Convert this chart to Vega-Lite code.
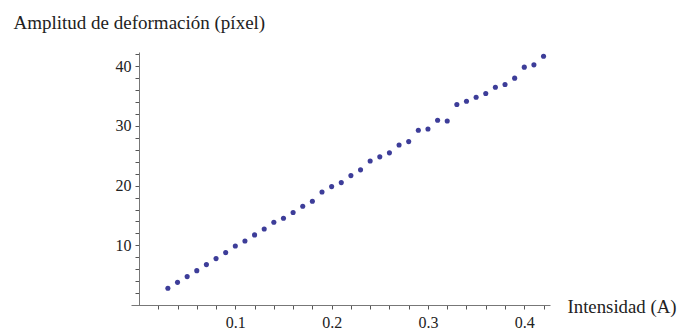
{
  "$schema": "https://vega.github.io/schema/vega-lite/v6.json",
  "autosize": "none",
  "width": 419,
  "height": 253,
  "padding": {"left": 131, "top": 52, "right": 127, "bottom": 27},
  "background": "white",
  "config": {
    "view": {"stroke": null, "fill": null},
    "font": "Liberation Serif"
  },
  "data": {
    "values": [
      {"intensidad": 0.03, "amplitud": 2.80},
      {"intensidad": 0.04, "amplitud": 3.80},
      {"intensidad": 0.05, "amplitud": 4.76},
      {"intensidad": 0.06, "amplitud": 5.76},
      {"intensidad": 0.07, "amplitud": 6.77},
      {"intensidad": 0.08, "amplitud": 7.78},
      {"intensidad": 0.09, "amplitud": 8.78},
      {"intensidad": 0.10, "amplitud": 9.89},
      {"intensidad": 0.11, "amplitud": 10.73},
      {"intensidad": 0.12, "amplitud": 11.75},
      {"intensidad": 0.13, "amplitud": 12.74},
      {"intensidad": 0.14, "amplitud": 13.86},
      {"intensidad": 0.15, "amplitud": 14.53},
      {"intensidad": 0.16, "amplitud": 15.49},
      {"intensidad": 0.17, "amplitud": 16.54},
      {"intensidad": 0.18, "amplitud": 17.38},
      {"intensidad": 0.19, "amplitud": 18.94},
      {"intensidad": 0.20, "amplitud": 19.84},
      {"intensidad": 0.21, "amplitud": 20.51},
      {"intensidad": 0.22, "amplitud": 21.69},
      {"intensidad": 0.23, "amplitud": 22.65},
      {"intensidad": 0.24, "amplitud": 24.13},
      {"intensidad": 0.25, "amplitud": 24.83},
      {"intensidad": 0.26, "amplitud": 25.50},
      {"intensidad": 0.27, "amplitud": 26.81},
      {"intensidad": 0.28, "amplitud": 27.38},
      {"intensidad": 0.29, "amplitud": 29.28},
      {"intensidad": 0.30, "amplitud": 29.50},
      {"intensidad": 0.31, "amplitud": 30.95},
      {"intensidad": 0.32, "amplitud": 30.84},
      {"intensidad": 0.33, "amplitud": 33.60},
      {"intensidad": 0.34, "amplitud": 34.14},
      {"intensidad": 0.35, "amplitud": 34.81},
      {"intensidad": 0.36, "amplitud": 35.45},
      {"intensidad": 0.37, "amplitud": 36.49},
      {"intensidad": 0.38, "amplitud": 36.96},
      {"intensidad": 0.39, "amplitud": 38.02},
      {"intensidad": 0.40, "amplitud": 39.86},
      {"intensidad": 0.41, "amplitud": 40.25},
      {"intensidad": 0.42, "amplitud": 41.70}
    ]
  },
  "mark": {"type": "circle", "size": 26, "color": "#3d3d99", "opacity": 1},
  "encoding": {
    "x": {
      "field": "intensidad",
      "type": "quantitative",
      "scale": {"domain": [-0.0083, 0.4267], "nice": false, "zero": false},
      "axis": {
        "zindex": 1,
        "values": [0.02, 0.04, 0.06, 0.08, 0.1, 0.12, 0.14, 0.16, 0.18, 0.2, 0.22, 0.24, 0.26, 0.28, 0.3, 0.32, 0.34, 0.36, 0.38, 0.4, 0.42],
        "format": ".1f",
        "labelExpr": "abs(datum.value * 10 - round(datum.value * 10)) < 0.000001 ? datum.label : ''",
        "grid": false,
        "ticks": true,
        "domainColor": "#777777",
        "tickColor": "#555555",
        "tickWidth": 1,
        "tickSize": 4,
        "labelPadding": 5,
        "labelFontSize": 16,
        "labelColor": "#222222",
        "labelFont": "Liberation Serif",
        "labelBaseline": "top",
        "title": "Intensidad (A)",
        "titleFont": "Liberation Serif",
        "titleFontSize": 18.8,
        "titleFontWeight": "normal",
        "titleColor": "#222222",
        "titleAnchor": "start",
        "titleAlign": "left",
        "titleBaseline": "alphabetic",
        "titleX": 436,
        "titleY": 7
      }
    },
    "y": {
      "field": "amplitud",
      "type": "quantitative",
      "scale": {"domain": [0, 42.4], "nice": false, "zero": false},
      "axis": {
        "zindex": 1,
        "offset": -8,
        "values": [2, 4, 6, 8, 10, 12, 14, 16, 18, 20, 22, 24, 26, 28, 30, 32, 34, 36, 38, 40, 42],
        "format": "d",
        "labelExpr": "datum.value % 10 == 0 ? datum.label : ''",
        "grid": false,
        "ticks": true,
        "domainColor": "#777777",
        "tickColor": "#555555",
        "tickWidth": 1,
        "tickSize": 4,
        "labelPadding": 4,
        "labelFontSize": 16,
        "labelColor": "#222222",
        "labelFont": "Liberation Serif",
        "title": "Amplitud de deformación (píxel)",
        "titleFont": "Liberation Serif",
        "titleFontSize": 19,
        "titleFontWeight": "normal",
        "titleColor": "#222222",
        "titleAngle": 0,
        "titleAnchor": "start",
        "titleAlign": "left",
        "titleBaseline": "alphabetic",
        "titleX": -126,
        "titleY": -24
      }
    }
  }
}
